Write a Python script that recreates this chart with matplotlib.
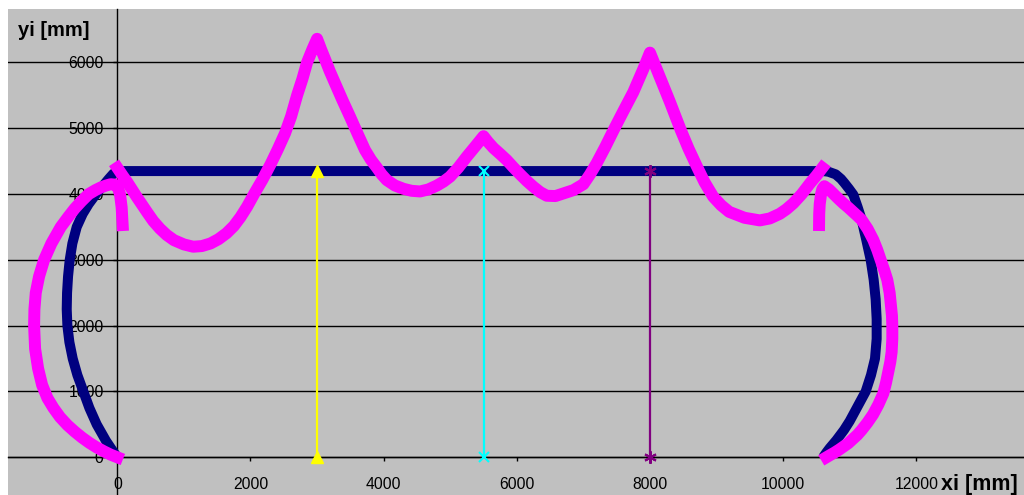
import matplotlib
matplotlib.use('Agg')
import matplotlib.pyplot as plt

plt.rcParams['font.family'] = ['Liberation Sans', 'DejaVu Sans']

# Step 1: Values

# navy outline: left arc, top chord, right arc
navy_x = [0, -70, -170, -310, -420, -510, -600, -670, -720, -750, -760, -755,
          -740, -715, -675, -610, -520, -430, -320, -220, -130, -60, 0,
          10600, 10680, 10790, 10870, 10920, 10990, 11055, 11120, 11180, 11250,
          11315, 11360, 11390, 11405, 11405, 11380, 11320, 11240, 11160, 11080,
          11000, 10915, 10800, 10700, 10655, 10600]
navy_y = [0, 100, 250, 500, 750, 1000, 1250, 1500, 1750, 2000, 2250, 2500,
          2750, 3000, 3250, 3500, 3700, 3850, 4000, 4120, 4230, 4310, 4350,
          4350, 4340, 4300, 4230, 4170, 4080, 3990, 3800, 3610, 3300,
          3000, 2700, 2400, 2100, 1800, 1500, 1250, 1000, 850, 700,
          550, 415, 260, 140, 80, 0]

# magenta curve, left arc with the short tail at x=0
pink_left_x = [0, -100, -200, -310, -420, -530, -640, -750, -860, -960, -1050,
               -1130, -1190, -1235, -1250, -1245, -1225, -1175,
               -1100, -990, -850, -740, -640, -540, -430, -330, -250, -170,
               -100, -40, 0, 40, 65, 80]
pink_left_y = [0, 40, 90, 150, 220, 300, 390, 490, 610, 750, 900,
               1100, 1350, 1650, 2000, 2250, 2500, 2750,
               3000, 3250, 3500, 3650, 3780, 3890, 4000, 4060, 4100, 4130,
               4150, 4145, 4120, 4000, 3800, 3530]

# magenta curve across the span
pink_main_x = [0, 80, 150, 220, 290, 370, 450, 540, 640, 740, 850, 1000,
               1140, 1270, 1400, 1520, 1640, 1750, 1850, 1950, 2060, 2180,
               2300, 2410, 2519, 2610, 2700, 2780, 2850, 2930, 3000, 3060,
               3120, 3190, 3270, 3380, 3495, 3610, 3720, 3810, 3900, 3970,
               4046, 4170, 4300, 4420, 4546, 4670, 4800, 4900, 4997, 5120,
               5248, 5380, 5500, 5570, 5650, 5750, 5848, 5950, 6050, 6150,
               6248, 6350, 6450, 6580, 6700, 6850, 7000, 7100, 7200, 7330,
               7455, 7600, 7750, 7900, 8000, 8100, 8200, 8300, 8380, 8462,
               8580, 8700, 8820, 8950, 9070, 9190, 9420, 9650, 9800, 9950,
               10050, 10153, 10280, 10404, 10500, 10590]
pink_main_y = [4400, 4280, 4180, 4070, 3960, 3840, 3720, 3590, 3475, 3380, 3300, 3235,
               3200, 3210, 3250, 3315, 3405, 3515, 3650, 3810, 4012, 4220,
               4450, 4680, 4924, 5180, 5500, 5750, 6000, 6200, 6360, 6200,
               6050, 5870, 5684, 5430, 5176, 4915, 4670, 4520, 4400, 4300,
               4214, 4130, 4080, 4050, 4040, 4070, 4130, 4190, 4264, 4400,
               4568, 4730, 4880, 4790, 4700, 4610, 4518, 4405, 4300, 4200,
               4112, 4030, 3975, 3970, 4010, 4060, 4150, 4300, 4470, 4720,
               4975, 5260, 5550, 5900, 6150, 5900, 5650, 5400, 5190, 4975,
               4690, 4430, 4180, 3960, 3830, 3730, 3640, 3600, 3630, 3700,
               3770, 3860, 4000, 4164, 4280, 4400]

# magenta curve, right tail and right arc
pink_right_x = [10540, 10542, 10550, 10570, 10590, 10620, 10690, 10760, 10830,
                10904, 10980, 11050, 11115, 11180, 11270, 11355, 11415, 11465,
                11520, 11565, 11600, 11620, 11635, 11640, 11640, 11630, 11610,
                11580, 11545, 11505, 11430, 11350, 11265, 11180, 11115, 11050,
                10980, 10905, 10840, 10770, 10700, 10650]
pink_right_y = [3530, 3700, 3850, 4000, 4080, 4120, 4070, 4000, 3930,
                3860, 3795, 3730, 3670, 3607, 3470, 3303, 3150, 3000,
                2840, 2695, 2500, 2300, 2150, 2000, 1800, 1600, 1450,
                1300, 1130, 970, 800, 650, 525, 415, 340, 280,
                215, 161, 115, 70, 30, 0]

# vertical posts
post_x = [3000, 5500, 8000]
post_y = [0, 4350]

x_ticks = [0, 2000, 4000, 6000, 8000, 10000, 12000]
y_ticks = [0, 1000, 2000, 3000, 4000, 5000, 6000]

# Step 2: Figure and axes

fig = plt.figure(figsize=(10.24, 4.95), dpi=100)
ax = fig.add_axes([8 / 1024, 0, 1016 / 1024, 486 / 495])
ax.set_facecolor('#c0c0c0')
ax.set_xlim(-1642, 13618)
ax.set_ylim(-573, 6813)

for y in y_ticks:
    ax.axhline(y, color='black', lw=1.0, zorder=0.5)

ax.spines['left'].set_position(('data', 0))
ax.spines['bottom'].set_position(('data', 0))
ax.spines['top'].set_visible(False)
ax.spines['right'].set_visible(False)
for s in ('left', 'bottom'):
    ax.spines[s].set_linewidth(1.0)
    ax.spines[s].set_zorder(0.6)

ax.set_xticks(x_ticks)
ax.set_yticks(y_ticks)
ax.set_xticklabels([str(v) for v in x_ticks])
ax.set_yticklabels([str(v) for v in y_ticks])
ax.tick_params(axis='y', direction='out', length=3, width=1, pad=6.8,
               labelsize=11.3, colors='black')
ax.tick_params(axis='x', direction='out', length=3, width=1, pad=11,
               labelsize=11.3, colors='black')

# Step 3: Series

ax.plot(navy_x, navy_y, color='#000080', lw=7.2, solid_joinstyle='round',
        solid_capstyle='butt', zorder=2)

for xs, ys in [(pink_left_x, pink_left_y), (pink_main_x, pink_main_y),
               (pink_right_x, pink_right_y)]:
    ax.plot(xs, ys, color='#ff00ff', lw=8.6, solid_joinstyle='round',
            solid_capstyle='projecting', zorder=3)

post_styles = [('#ffff00', '^', 9, 1.0), ('#00ffff', 'x', 7, 1.5),
               ('#800080', (6, 2, 0), 9, 1.5)]
for px, (c, m, ms, mew) in zip(post_x, post_styles):
    ax.plot([px, px], post_y, color=c, lw=1.6, marker=m, ms=ms, mew=mew,
            mec=c, mfc=c, zorder=4)

# Step 4: Axis titles

fig.text(54 / 1024, 1 - 30 / 495, 'yi [mm]', fontsize=14.5, fontweight='bold',
         ha='center', va='center')
fig.text(1018 / 1024, 1 - 490 / 495, 'xi [mm]', fontsize=15.5, fontweight='bold',
         ha='right', va='baseline')

fig.savefig('out.png', dpi=100)
